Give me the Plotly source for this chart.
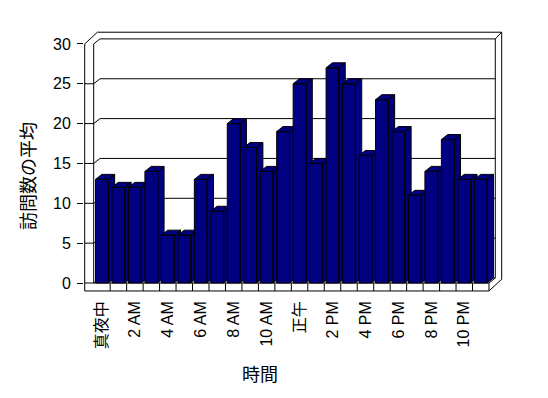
import plotly.graph_objects as go

# ---- data ----
categories = ["真夜中", "1 AM", "2 AM", "3 AM", "4 AM", "5 AM", "6 AM", "7 AM",
              "8 AM", "9 AM", "10 AM", "11 AM", "正午", "1 PM", "2 PM", "3 PM",
              "4 PM", "5 PM", "6 PM", "7 PM", "8 PM", "9 PM", "10 PM", "11 PM"]
visits = [13, 12, 12, 14, 6, 6, 13, 9, 20, 17, 14, 19,
          25, 15, 27, 25, 16, 23, 19, 11, 14, 18, 13, 13]
y_ticks = [0, 5, 10, 15, 20, 25, 30]
x_tick_idx = list(range(0, 24, 2))
x_title = "時間"
y_title = "訪問数の平均"

# ---- geometry (in axis units) ----
N = len(categories)
XL, XR = -0.5, N - 0.5
YTOP = 30
DX, DY = 0.383, 0.627      # depth of the 3D box
TX, TY = 0.546, 1.0        # wall / floor thickness
OX, OY = 0.389, 0.84       # outer edge offset of the walls
H = 0.39                   # half width of bar front
NAVY = "#000080"
FONT = "Liberation Sans, Noto Sans CJK JP, sans-serif"

fig = go.Figure()

# frame lines (walls, floor, gridlines)
fx, fy = [], []
def seg(pts):
    for p in pts:
        fx.append(p[0]); fy.append(p[1])
    fx.append(None); fy.append(None)

P = (XL - TX + DX + OX, YTOP + DY + OY)
Q = (XR + DX + OX, YTOP + DY + OY)
seg([(XL - TX, -TY), (XL - TX, YTOP), P, Q,
     (XR + DX + OX, -TY + DY + OY), (XR, -TY), (XL - TX, -TY)])
seg([(XL, 0), (XL, YTOP), (XL + DX, YTOP + DY), (XR + DX, YTOP + DY),
     (XR + DX, DY)])
seg([(XR + DX, YTOP + DY), Q])
seg([(XL, 0), (XR, 0), (XR + DX, DY)])
seg([(XR, 0), (XR, -TY)])
for k in range(1, N):
    seg([(XL + k, 0), (XL + k, -TY)])
for v in y_ticks[:-1]:
    seg([(XL - TX, v), (XL, v), (XL + DX, v + DY), (XR + DX, v + DY)])

fig.add_trace(go.Scatter(x=fx, y=fy, mode="lines",
                         line=dict(color="black", width=1),
                         hoverinfo="skip", showlegend=False))

# bars as 3D boxes, drawn left to right
for i, v in enumerate(visits):
    xs, ys = [], []
    faces = [
        [(i - H, 0), (i + H, 0), (i + H, v), (i - H, v), (i - H, 0)],
        [(i - H, v), (i + H, v), (i + H + DX, v + DY), (i - H + DX, v + DY), (i - H, v)],
        [(i + H, 0), (i + H + DX, DY), (i + H + DX, v + DY), (i + H, v), (i + H, 0)],
    ]
    for f in faces:
        for p in f:
            xs.append(p[0]); ys.append(p[1])
        xs.append(None); ys.append(None)
    fig.add_trace(go.Scatter(x=xs, y=ys, mode="lines", fill="toself",
                             fillcolor=NAVY, line=dict(color="black", width=1),
                             name=categories[i], hoverinfo="skip",
                             showlegend=False))

# pixel mapping: plot area 84..505 x, 30..294 y
PXC = 16.47
PYU = 7.97
L, R, T, B = 84, 505, 30, 294
x_min = XL - (93.7 - L) / PXC
x_max = XL + (R - 93.7) / PXC
y_max = (283 - T) / PYU
y_min = -(B - 283) / PYU

fig.update_layout(
    width=548, height=398,
    margin=dict(l=L, r=548 - R, t=T, b=398 - B),
    paper_bgcolor="white", plot_bgcolor="white",
    font=dict(family=FONT, size=16, color="black"),
    showlegend=False,
    xaxis=dict(range=[x_min, x_max], showgrid=False, zeroline=False,
               showline=False, ticks="",
               tickvals=x_tick_idx,
               ticktext=[categories[i] for i in x_tick_idx],
               tickangle=-90, tickfont=dict(size=16, color="black"),
               ticklabelstandoff=3),
    yaxis=dict(range=[y_min, y_max], showgrid=False, zeroline=False,
               showline=False, ticks="outside", ticklen=6,
               tickcolor="black", tickwidth=1,
               tickvals=y_ticks, tickfont=dict(size=16, color="black"),
               ticklabelstandoff=3),
    annotations=[
        dict(text=x_title, xref="paper", yref="paper",
             x=(260 - L) / (R - L), y=(B - 375) / (B - T),
             xanchor="center", yanchor="middle", showarrow=False,
             font=dict(size=18)),
        dict(text=y_title, xref="paper", yref="paper",
             x=(28.5 - L) / (R - L), y=(B - 176.5) / (B - T),
             xanchor="center", yanchor="middle", showarrow=False,
             textangle=-90, font=dict(size=18)),
    ],
)

fig.write_html("out.html")
